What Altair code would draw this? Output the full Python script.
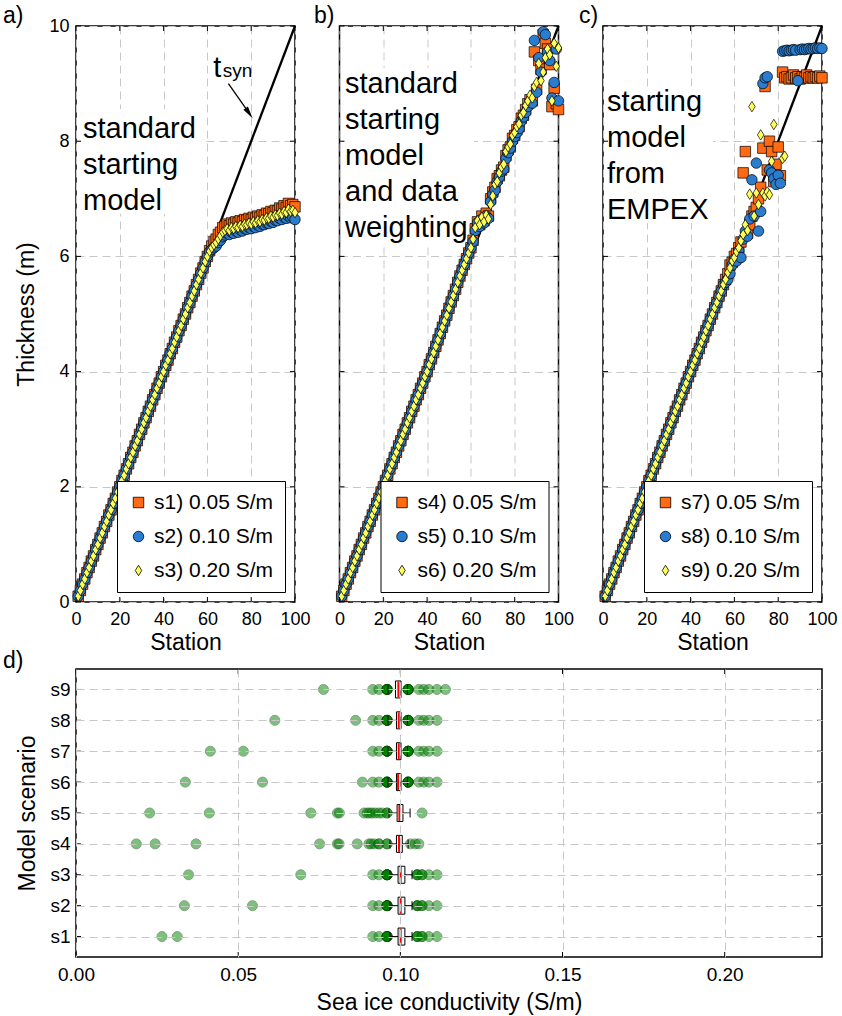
import altair as alt
import pandas as pd

FONT = "Liberation Sans"
ORANGE = "#ff6a13"
BLUE = "#2a7ccf"
YELLOW = "#ffff5c"
GRID_COLOR = "#c8c8c8"
THIN_DIAMOND = "M0,-1L0.62,0L0,1L-0.62,0Z"
SHAPES = ["square", "circle", THIN_DIAMOND]

# ---------------- data: panels a-c (station, thickness in m) ----------------
stations = list(range(1, 101))

base_1_40 = [0.10, 0.20, 0.31, 0.40, 0.51, 0.60, 0.71, 0.80, 0.91, 1.00,
             1.11, 1.20, 1.31, 1.40, 1.51, 1.60, 1.71, 1.80, 1.91, 2.00,
             2.11, 2.20, 2.31, 2.40, 2.51, 2.60, 2.71, 2.80, 2.91, 3.00,
             3.11, 3.20, 3.31, 3.40, 3.51, 3.60, 3.71, 3.80, 3.91, 4.00]
a_41_60 = [4.11, 4.20, 4.31, 4.40, 4.51, 4.60, 4.71, 4.80, 4.91, 5.00,
           5.11, 5.20, 5.31, 5.40, 5.51, 5.60, 5.71, 5.80, 5.91, 6.00]
b_41_60 = [4.12, 4.22, 4.33, 4.44, 4.55, 4.66, 4.77, 4.88, 4.98, 5.10,
           5.21, 5.32, 5.43, 5.55, 5.66, 5.76, 5.86, 5.96, 6.06, 6.15]
c_41_55 = [4.11, 4.20, 4.31, 4.40, 4.51, 4.60, 4.71, 4.80, 4.91, 5.00,
           5.11, 5.20, 5.31, 5.40, 5.51]

# panel a, stations 61-100
s1_tail = [6.10, 6.18, 6.26, 6.30, 6.38, 6.42, 6.50, 6.52, 6.56, 6.53,
           6.58, 6.56, 6.60, 6.58, 6.62, 6.60, 6.64, 6.63, 6.66, 6.64,
           6.68, 6.66, 6.70, 6.68, 6.72, 6.71, 6.75, 6.74, 6.78, 6.76,
           6.80, 6.79, 6.84, 6.82, 6.88, 6.85, 6.92, 6.88, 6.90, 6.86]
s2_tail = [6.08, 6.12, 6.15, 6.18, 6.24, 6.28, 6.34, 6.37, 6.40, 6.38,
           6.42, 6.40, 6.44, 6.42, 6.46, 6.44, 6.48, 6.47, 6.50, 6.48,
           6.52, 6.50, 6.54, 6.52, 6.56, 6.55, 6.58, 6.57, 6.61, 6.59,
           6.63, 6.62, 6.66, 6.64, 6.68, 6.66, 6.70, 6.67, 6.68, 6.64]
s3_tail = [6.09, 6.15, 6.20, 6.24, 6.30, 6.36, 6.42, 6.45, 6.48, 6.45,
           6.50, 6.48, 6.52, 6.50, 6.54, 6.52, 6.56, 6.55, 6.58, 6.56,
           6.60, 6.58, 6.62, 6.60, 6.64, 6.63, 6.67, 6.66, 6.70, 6.68,
           6.72, 6.71, 6.75, 6.73, 6.78, 6.76, 6.82, 6.78, 6.80, 6.76]

# panel b, stations 61-100
s4_tail = [6.28, 6.48, 6.60, 6.55, 6.70, 6.62, 6.75, 6.70, 7.00, 7.12,
           7.20, 7.35, 7.40, 7.50, 7.55, 7.75, 7.85, 7.90, 8.05, 8.10,
           8.20, 8.25, 8.40, 8.45, 8.55, 8.65, 8.72, 8.70, 9.55, 8.90,
           9.40, 9.25, 9.85, 9.70, 9.60, 9.33, 8.60, 8.92, 8.65, 8.55]
s5_tail = [6.26, 6.45, 6.58, 6.52, 6.65, 6.58, 6.70, 6.66, 6.95, 7.08,
           7.15, 7.30, 7.38, 7.48, 7.52, 7.70, 7.80, 7.88, 8.00, 8.08,
           8.15, 8.22, 8.35, 8.42, 8.50, 8.60, 8.68, 8.66, 9.75, 8.85,
           9.45, 9.20, 9.90, 9.85, 9.55, 9.40, 8.75, 9.02, 9.60, 8.70]
s6_tail = [6.30, 6.50, 6.62, 6.55, 6.68, 6.60, 6.72, 6.65, 6.90, 7.05,
           7.25, 7.30, 7.45, 7.55, 7.60, 7.82, 7.90, 7.95, 8.10, 8.15,
           8.25, 8.30, 8.45, 8.50, 8.62, 8.70, 8.80, 8.75, 8.95, 9.02,
           9.35, 9.05, 9.20, 9.45, 9.60, 9.50, 8.70, 9.70, 9.30, 9.62]

# panel c, stations 56-100 (s9 only to station 83; the rest lies off scale)
s7_tail = [5.60, 5.70, 5.85, 5.90, 6.00, 6.05, 6.15, 6.25, 7.45, 7.82,
           6.40, 6.55, 6.70, 6.78, 6.85, 7.00, 7.20, 7.88, 8.95, 7.50,
           8.00, 7.82, 7.30, 7.60, 7.90, 7.40, 9.20, 9.10, 9.12, 9.08,
           9.10, 9.15, 9.10, 9.12, 9.08, 9.12, 9.10, 9.15, 9.10, 9.12,
           9.10, 9.12, 9.10, 9.13, 9.10]
s8_tail = [5.55, 5.60, 5.70, 5.85, 5.95, 5.92, 6.10, 5.98, 6.30, 6.44,
           6.35, 6.65, 7.33, 6.70, 7.62, 6.44, 6.78, 9.00, 9.10, 9.12,
           7.50, 7.45, 7.35, 7.25, 7.41, 7.27, 9.56, 9.57, 9.58, 9.57,
           9.58, 9.59, 9.58, 9.05, 9.59, 9.60, 9.59, 9.60, 9.61, 9.60,
           9.61, 9.62, 9.61, 9.62, 9.61]
s9_tail = [5.60, 5.72, 5.80, 5.92, 5.98, 6.08, 6.15, 6.27, 6.38, 6.55,
           6.45, 7.08, 8.60, 6.70, 7.10, 6.90, 8.11, 7.10, 7.05, 7.12,
           7.07, 7.65, 8.29, None, None, None, 7.70, 7.74]

s1 = base_1_40 + a_41_60 + s1_tail
s2 = base_1_40 + a_41_60 + s2_tail
s3 = base_1_40 + a_41_60 + s3_tail
s4 = base_1_40 + b_41_60 + s4_tail
s5 = base_1_40 + b_41_60 + s5_tail
s6 = base_1_40 + b_41_60 + s6_tail
s7 = base_1_40 + c_41_55 + s7_tail
s8 = base_1_40 + c_41_55 + s8_tail
s9 = base_1_40 + c_41_55 + s9_tail

labels_a = ["s1) 0.05 S/m", "s2) 0.10 S/m", "s3) 0.20 S/m"]
labels_b = ["s4) 0.05 S/m", "s5) 0.10 S/m", "s6) 0.20 S/m"]
labels_c = ["s7) 0.05 S/m", "s8) 0.10 S/m", "s9) 0.20 S/m"]

# true (synthetic) thickness line
tsyn_station = [0, 100]
tsyn_thickness = [0, 10]

# t_syn annotation (data coordinates)
tsyn_label_station = [62.7, 67.0]
tsyn_label_thickness = [9.12, 9.12]
arrow_station = [69.6, 79.05]
arrow_thickness = [9.00, 8.486]

x_ticks_top = [0, 20, 40, 60, 80, 100]
y_ticks_top = [0, 2, 4, 6, 8, 10]

# ---------------- data: panel d ----------------
scen_ids = [1, 2, 3, 4, 5, 6, 7, 8, 9]
d_points = [
    [0.0265, 0.0312, 0.0915, 0.0934] + [0.0959] * 6 + [0.1052] * 3 + [0.1067] * 2 + [0.1088, 0.1113],
    [0.0334, 0.0544, 0.0915, 0.0934] + [0.0959] * 6 + [0.1052] * 3 + [0.1067] * 2 + [0.1088, 0.1113],
    [0.0347, 0.0693, 0.0915, 0.0934] + [0.0959] * 6 + [0.1052] * 3 + [0.1067] * 2 + [0.1088, 0.1113],
    [0.0186, 0.0244, 0.0370, 0.0751, 0.0806, 0.0811, 0.0867, 0.0903, 0.0910, 0.0920,
     0.0934, 0.0934, 0.0959, 0.0959, 0.1031, 0.1046, 0.1057],
    [0.0227, 0.0411, 0.0724, 0.0806, 0.0812, 0.0888, 0.0898, 0.0905, 0.0913, 0.0923,
     0.0934, 0.0944, 0.0959, 0.0959, 0.1067],
    [0.0337, 0.0575, 0.0883, 0.0915, 0.0934] + [0.0959] * 6 + [0.1024] * 6 + [0.1057, 0.1072, 0.1088, 0.1113],
    [0.0414, 0.0516, 0.0915, 0.0934] + [0.0959] * 6 + [0.1024] * 6 + [0.1057, 0.1072, 0.1088, 0.1113],
    [0.0613, 0.0862, 0.0915, 0.0934] + [0.0959] * 6 + [0.1024] * 6 + [0.1057, 0.1072, 0.1088, 0.1113],
    [0.0763, 0.0915, 0.0934] + [0.0959] * 6 + [0.1024] * 6 + [0.1057, 0.1072, 0.1088, 0.1113, 0.1139],
]
box_q1 = [0.0993, 0.0993, 0.0993, 0.0988, 0.0990, 0.0988, 0.0988, 0.0988, 0.0985]
box_med = [0.1001, 0.1001, 0.1001, 0.0996, 0.0997, 0.0993, 0.0995, 0.0995, 0.0994]
box_q3 = [0.1014, 0.1014, 0.1014, 0.1006, 0.1008, 0.1002, 0.1002, 0.1002, 0.1002]
box_wlo = [0.0968, 0.0968, 0.0968, 0.0968, 0.0965, 0.0962, 0.0962, 0.0962, 0.0962]
box_whi = [0.1036, 0.1036, 0.1036, 0.1024, 0.1030, 0.1022, 0.1022, 0.1022, 0.1022]
d_x_ticks = [0.0, 0.05, 0.10, 0.15, 0.20]

# ---------------- styling helpers ----------------
AX = dict(domain=False, ticks=False, labelColor="black", titleColor="black",
          labelFont=FONT, titleFont=FONT, titleFontWeight="normal", labelFlush=False,
          labelOverlap=False, gridColor=GRID_COLOR, gridDash=[8, 5], gridWidth=1)

one = pd.DataFrame({"k": [0]})
PANEL_W = 219
PANEL_H = 576
TICK = 5


def letter_mark(letter, dx, dy):
    return alt.Chart(one).mark_text(align="left", baseline="middle", fontSize=23,
                                    font=FONT, color="black").encode(
        x=alt.value(dx), y=alt.value(dy), text=alt.value(letter))


def tick_layers(xvals, yvals, X, Y, w, h):
    """Inward tick marks on all four sides, placed through the scales."""
    xdf = pd.DataFrame({"v": xvals})
    ydf = pd.DataFrame({"v": yvals})
    out = []
    for (y0, y1) in [(0, TICK), (h, h - TICK)]:
        out.append(alt.Chart(xdf).mark_rule(color="black", strokeWidth=1).encode(
            x=X("v:Q"), y=alt.value(y0), y2=alt.value(y1)))
    for (x0, x1) in [(0, TICK), (w, w - TICK)]:
        out.append(alt.Chart(ydf).mark_rule(color="black", strokeWidth=1).encode(
            y=Y("v:Q"), x=alt.value(x0), x2=alt.value(x1)))
    return out


def top_panel(series, labels, letter, letter_dx, text, tx, ty, box, first, with_tsyn=False):
    rows = []
    for vals, lab in zip(series, labels):
        for st, v in zip(stations, vals):
            if v is not None:
                rows.append({"station": st, "thickness": v, "series": lab})
    df = pd.DataFrame(rows)
    line_df = pd.DataFrame({"station": tsyn_station, "thickness": tsyn_thickness})
    xs = alt.Scale(domain=[0, 100], nice=False, zero=False)
    ys = alt.Scale(domain=[0, 10], nice=False, zero=False)
    xaxis = alt.Axis(values=x_ticks_top, title="Station", labelFontSize=18, titleFontSize=23,
                     labelPadding=8, titlePadding=3, grid=True, **AX)
    if first:
        yaxis = alt.Axis(values=y_ticks_top, title="Thickness (m)", labelFontSize=18,
                         titleFontSize=23, labelPadding=7, titlePadding=10, grid=True, **AX)
    else:
        yaxis = alt.Axis(values=y_ticks_top, title=None, labels=False, grid=True, **AX)

    def X(f):
        return alt.X(f, scale=xs, axis=xaxis)

    def Y(f):
        return alt.Y(f, scale=ys, axis=yaxis)

    rect = alt.Chart(one).mark_rect(color="white").encode(
        x=alt.value(box[0]), x2=alt.value(box[1]), y=alt.value(box[2]), y2=alt.value(box[3]))
    txt = alt.Chart(pd.DataFrame({"t": [text]})).mark_text(
        align="left", baseline="alphabetic", fontSize=29, lineHeight=36, lineBreak="\n",
        font=FONT, color="black").encode(x=alt.value(tx), y=alt.value(ty), text="t:N")
    line = alt.Chart(line_df).mark_line(color="black", strokeWidth=2.3).encode(
        x=X("station:Q"), y=Y("thickness:Q"))
    leg = alt.Legend(title=None)
    pts = alt.Chart(df).mark_point(filled=True, stroke="black", strokeWidth=0.7, opacity=1).encode(
        x=X("station:Q"),
        y=Y("thickness:Q"),
        color=alt.Color("series:N", scale=alt.Scale(domain=labels, range=[ORANGE, BLUE, YELLOW]),
                        legend=leg),
        shape=alt.Shape("series:N", scale=alt.Scale(domain=labels, range=SHAPES), legend=leg),
        size=alt.Size("series:N", scale=alt.Scale(domain=labels, range=[110, 110, 190]), legend=None),
    )
    layers = [rect, txt, line, pts]
    if with_tsyn:
        t_df = pd.DataFrame({"station": tsyn_label_station[:1],
                             "thickness": tsyn_label_thickness[:1], "t": ["t"]})
        syn_df = pd.DataFrame({"station": tsyn_label_station[1:],
                               "thickness": tsyn_label_thickness[1:], "t": ["syn"]})
        arrow_df = pd.DataFrame({"station": arrow_station, "thickness": arrow_thickness})
        head_df = pd.DataFrame({"station": arrow_station[1:], "thickness": arrow_thickness[1:]})
        layers += [
            alt.Chart(t_df).mark_text(align="left", baseline="alphabetic", fontSize=29, font=FONT,
                                      color="black").encode(
                x=X("station:Q"), y=Y("thickness:Q"), text="t:N"),
            alt.Chart(syn_df).mark_text(align="left", baseline="alphabetic", fontSize=19, font=FONT,
                                        color="black").encode(
                x=X("station:Q"), y=Y("thickness:Q"), text="t:N"),
            alt.Chart(arrow_df).mark_line(color="black", strokeWidth=1.3).encode(
                x=X("station:Q"), y=Y("thickness:Q")),
            alt.Chart(head_df).mark_point(shape="M0,-1L0.45,1L-0.45,1Z", filled=True, color="black",
                                          opacity=1, size=150, angle=145.6).encode(
                x=X("station:Q"), y=Y("thickness:Q")),
        ]
    layers += tick_layers(x_ticks_top, y_ticks_top, X, Y, PANEL_W, PANEL_H)
    layers.append(letter_mark(letter, letter_dx, -10))
    return alt.layer(*layers).properties(width=PANEL_W, height=PANEL_H)


pa = top_panel([s1, s2, s3], labels_a, "a)", -73, "standard\nstarting\nmodel", 7, 112,
               (5, 125, 83, 188), True, with_tsyn=True)
pb = top_panel([s4, s5, s6], labels_b, "b)", -25.5, "standard\nstarting\nmodel\nand data\nweighting",
               5.5, 67, (4.5, 134.5, 42, 218), False)
pc = top_panel([s7, s8, s9], labels_c, "c)", -24, "starting\nmodel\nfrom\nEMPEX", 4, 85,
               (3, 110, 63, 197), False)

top = alt.hconcat(pa, pb, pc, spacing=44.5, bounds="flush").resolve_scale(
    color="independent", shape="independent", size="independent").resolve_legend(
    color="independent", shape="independent")

# ---------------- panel d ----------------
D_W = 746
D_H = 288
d_rows = []
for scen, vals in zip(scen_ids, d_points):
    for v in vals:
        d_rows.append({"scenario": scen, "cond": v})
d_df = pd.DataFrame(d_rows)
box_df = pd.DataFrame({"scenario": scen_ids, "q1": box_q1, "med": box_med, "q3": box_q3,
                       "wlo": box_wlo, "whi": box_whi})
dxs = alt.Scale(domain=[0, 0.23], nice=False, zero=False)
dys = alt.Scale(domain=[0.5, 9.5], nice=False, zero=False)
dx_axis = alt.Axis(values=d_x_ticks, format=".2f", title="Sea ice conductivity (S/m)",
                   labelFontSize=19, titleFontSize=23, labelPadding=8, titlePadding=7,
                   grid=True, zindex=1, **AX)
dy_axis = alt.Axis(values=scen_ids, labelExpr="'s' + datum.value", title="Model scenario",
                   labelFontSize=19, titleFontSize=23, labelPadding=6, titlePadding=10,
                   grid=True, zindex=1, **AX)


def DX(f):
    return alt.X(f, scale=dxs, axis=dx_axis)


def DY(f):
    return alt.Y(f, scale=dys, axis=dy_axis)


pts_d = alt.Chart(d_df).mark_circle(size=100, color="green", opacity=0.5, stroke="#004d00",
                                    strokeWidth=1).encode(x=DX("cond:Q"), y=DY("scenario:Q"))
whisk = alt.Chart(box_df).mark_rule(color="black", strokeWidth=1).encode(
    x=DX("wlo:Q"), x2="whi:Q", y=DY("scenario:Q"))
cap_lo = alt.Chart(box_df).mark_tick(orient="vertical", size=9, thickness=1, color="black",
                                     opacity=1).encode(x=DX("wlo:Q"), y=DY("scenario:Q"))
cap_hi = alt.Chart(box_df).mark_tick(orient="vertical", size=9, thickness=1, color="black",
                                     opacity=1).encode(x=DX("whi:Q"), y=DY("scenario:Q"))
box = alt.Chart(box_df).mark_bar(size=17, fill="white", stroke="black", strokeWidth=1,
                                 orient="horizontal").encode(
    x=DX("q1:Q"), x2="q3:Q", y=DY("scenario:Q"))
med = alt.Chart(box_df).mark_tick(orient="vertical", size=16, thickness=2, color="red",
                                  opacity=1).encode(x=DX("med:Q"), y=DY("scenario:Q"))
d_layers = [pts_d, whisk, cap_lo, cap_hi, box, med]
d_layers += tick_layers(d_x_ticks, scen_ids, DX, DY, D_W, D_H)
d_layers.append(letter_mark("d)", -73, -8))
dchart = alt.layer(*d_layers).properties(width=D_W, height=D_H)

chart = alt.vconcat(top, dchart, spacing=-6).properties(
    padding={"left": 2, "top": 4, "right": 2, "bottom": 2}
).configure(font=FONT).configure_view(stroke="black", strokeWidth=1.5).configure_legend(
    orient="bottom-right", offset=10, padding=11, strokeColor="black", strokeWidth=1,
    fillColor="white", cornerRadius=0, labelFont=FONT, labelFontSize=21, labelColor="black",
    symbolSize=130, symbolStrokeColor="black", symbolStrokeWidth=0.8, rowPadding=12, labelOffset=5)

chart.save("out.html", embed_options={"renderer": "svg", "actions": False})
